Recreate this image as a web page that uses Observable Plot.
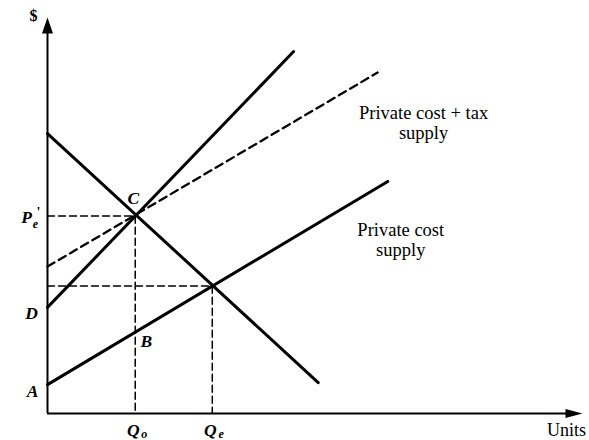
<!DOCTYPE html>
<html>
<head>
<meta charset="utf-8">
<script src="https://cdn.jsdelivr.net/npm/d3@7"></script>
<script src="https://cdn.jsdelivr.net/npm/@observablehq/plot@0.6"></script>
<style>
  html, body { margin: 0; padding: 0; background: #fff; }
  #chart svg { display: block; }
</style>
</head>
<body>
<div id="chart"></div>
<script>
// ---- Data (quantity, price) in abstract chart units ----
const demand = [[0, 70.7], [50.6, 7.8]];
const socialSupply = [[0, 26.8], [46.0, 91.4]];
const taxSupply = [[0, 37.1], [61.7, 86.1]];
const privateSupply = [[0, 7.3], [63.6, 58.6]];
const pointC = [16.4, 49.9];   // Qo, Pe'
const pointE = [30.8, 32.2];   // Qe, Pe
const pointB = [16.4, 20.5];
const axisMax = [100, 100];
const taxLabel = "Private cost + tax\nsupply";
const privateLabel = "Private cost\nsupply";

const arrowUp = { draw(ctx) { ctx.moveTo(0, 0); ctx.lineTo(5.5, 16); ctx.lineTo(-5.5, 16); ctx.closePath(); } };
const arrowRight = { draw(ctx) { ctx.moveTo(0, 0); ctx.lineTo(-17, 4.5); ctx.lineTo(-17, -4.5); ctx.closePath(); } };

const serif = "Liberation Serif, Times New Roman, serif";
const lbl = { fontFamily: serif, fontStyle: "italic", fontWeight: "bold", fontSize: 17.5, fill: "black", textAnchor: "middle" };
const sub = { ...lbl, fontSize: 12 };

const chart = Plot.plot({
  width: 589,
  height: 440,
  marginLeft: 47,
  marginRight: 7,
  marginTop: 17,
  marginBottom: 27,
  x: { domain: [0, axisMax[0]], axis: null },
  y: { domain: [0, axisMax[1]], axis: null },
  style: { background: "white", fontFamily: serif },
  marks: [
    // axes
    Plot.ruleX([0], { y1: 0, y2: axisMax[1] - 3, stroke: "black", strokeWidth: 2 }),
    Plot.ruleY([0], { x1: 0, x2: axisMax[0] - 2, stroke: "black", strokeWidth: 2.2 }),
    Plot.dot([[0, axisMax[1]]], { x: d => d[0], y: d => d[1], symbol: arrowUp, fill: "black", stroke: null }),
    Plot.dot([[axisMax[0], 0]], { x: d => d[0], y: d => d[1], symbol: arrowRight, fill: "black", stroke: null }),
    // guide lines
    Plot.line([[0, pointC[1]], pointC, [pointC[0], 0]], { x: d => d[0], y: d => d[1], stroke: "black", strokeWidth: 1.5, strokeDasharray: "7,4" }),
    Plot.line([[0, pointE[1]], pointE, [pointE[0], 0]], { x: d => d[0], y: d => d[1], stroke: "black", strokeWidth: 1.5, strokeDasharray: "7,4" }),
    // curves
    Plot.line(taxSupply, { x: d => d[0], y: d => d[1], stroke: "black", strokeWidth: 2.3, strokeDasharray: "8,5" }),
    Plot.line(demand, { x: d => d[0], y: d => d[1], stroke: "black", strokeWidth: 3, strokeLinecap: "round" }),
    Plot.line(socialSupply, { x: d => d[0], y: d => d[1], stroke: "black", strokeWidth: 3, strokeLinecap: "round" }),
    Plot.line(privateSupply, { x: d => d[0], y: d => d[1], stroke: "black", strokeWidth: 3, strokeLinecap: "round" }),
    // curve labels
    Plot.text([taxSupply[1]], { x: d => d[0], y: d => d[1], text: () => taxLabel, dx: 46, dy: 50, fontFamily: serif, fontSize: 18.5, lineHeight: 1.1, textAnchor: "middle", fill: "black" }),
    Plot.text([privateSupply[1]], { x: d => d[0], y: d => d[1], text: () => privateLabel, dx: 13, dy: 58, fontFamily: serif, fontSize: 18.5, lineHeight: 1.1, textAnchor: "middle", fill: "black" }),
    // axis labels
    Plot.text([[0, axisMax[1]]], { x: d => d[0], y: d => d[1], text: () => "$", dx: -14, dy: -2, fontFamily: serif, fontWeight: "bold", fontSize: 16, fill: "black", textAnchor: "middle" }),
    Plot.text([[axisMax[0], 0]], { x: d => d[0], y: d => d[1], text: () => "Units", dx: -16, dy: 17, fontFamily: serif, fontSize: 18, fill: "black", textAnchor: "middle" }),
    // point labels
    Plot.text([pointC], { x: d => d[0], y: d => d[1], text: () => "C", dx: -2, dy: -18, ...lbl }),
    Plot.text([pointB], { x: d => d[0], y: d => d[1], text: () => "B", dx: 11, dy: 9, ...lbl }),
    Plot.text([socialSupply[0]], { x: d => d[0], y: d => d[1], text: () => "D", dx: -16, dy: 6, ...lbl }),
    Plot.text([privateSupply[0]], { x: d => d[0], y: d => d[1], text: () => "A", dx: -15, dy: 7, ...lbl }),
    // P_e'
    Plot.text([[0, pointC[1]]], { x: d => d[0], y: d => d[1], text: () => "P", dx: -21, dy: 1, ...lbl }),
    Plot.text([[0, pointC[1]]], { x: d => d[0], y: d => d[1], text: () => "e", dx: -12, dy: 8, ...sub }),
    Plot.text([[0, pointC[1]]], { x: d => d[0], y: d => d[1], text: () => "'", dx: -9, dy: -3, ...lbl, fontStyle: "normal", fontSize: 14 }),
    // Q_o, Q_e
    Plot.text([[pointC[0], 0]], { x: d => d[0], y: d => d[1], text: () => "Q", dx: -2, dy: 17, ...lbl }),
    Plot.text([[pointC[0], 0]], { x: d => d[0], y: d => d[1], text: () => "o", dx: 9, dy: 21, ...sub }),
    Plot.text([[pointE[0], 0]], { x: d => d[0], y: d => d[1], text: () => "Q", dx: -2, dy: 17, ...lbl }),
    Plot.text([[pointE[0], 0]], { x: d => d[0], y: d => d[1], text: () => "e", dx: 9, dy: 21, ...sub })
  ]
});
document.getElementById("chart").appendChild(chart);
</script>
</body>
</html>
